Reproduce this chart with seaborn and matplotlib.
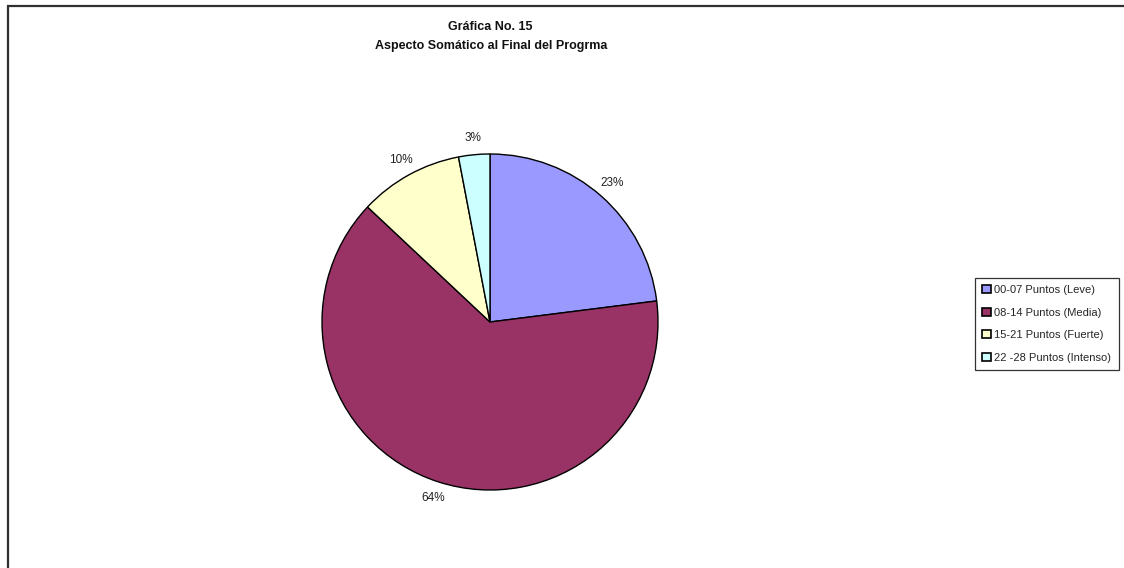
import matplotlib
matplotlib.use("Agg")
import matplotlib.pyplot as plt
from matplotlib.patches import Rectangle, Patch
import seaborn as sns

sns.set_theme(style="white")
plt.rcParams["font.family"] = ["Liberation Sans", "DejaVu Sans"]

# Data
categories = ["00-07 Puntos (Leve)", "08-14 Puntos (Media)",
              "15-21 Puntos (Fuerte)", "22 -28 Puntos (Intenso)"]
percentages = [23, 64, 10, 3]
colors = ["#9999FF", "#993366", "#FFFFCC", "#CCFFFF"]
title_lines = ["Gráfica No. 15", "Aspecto Somático al Final del Progrma"]

W, H = 1124, 568
fig = plt.figure(figsize=(W / 100, H / 100), dpi=100)
fig.patch.set_facecolor("white")

# Chart area frame (open to the right and bottom)
fig.patches.append(Rectangle((7.5 / W, -0.1), 1.2, 1.1 - 6.5 / H,
                             transform=fig.transFigure, fill=False,
                             edgecolor="#303030", linewidth=1.6))

# Pie axes, centred on the plot area
cx, cy, half = 490, 322, 200
ax = fig.add_axes([(cx - half) / W, (H - cy - half) / H, 2 * half / W, 2 * half / H])
r_px = 168
lim = half / r_px

wedges, _, autotexts = ax.pie(
    percentages, colors=colors, startangle=90, counterclock=False,
    autopct=lambda p: f"{p:.0f}%", pctdistance=1.1,
    wedgeprops=dict(edgecolor="black", linewidth=1.0),
    textprops=dict(fontsize=8.5, color="#222222"),
)
ax.set_xlim(-lim, lim)
ax.set_ylim(-lim, lim)
ax.set_aspect("equal")
ax.axis("off")

# Title
fig.text(490 / W, 1 - 27 / H, title_lines[0], ha="center", va="center",
         fontsize=9, fontweight="bold", color="#111111")
fig.text(491 / W, 1 - 46 / H, title_lines[1], ha="center", va="center",
         fontsize=9, fontweight="bold", color="#111111")

# Legend
handles = [Patch(facecolor=c, edgecolor="black", linewidth=1.2) for c in colors]
leg = fig.legend(handles, categories, loc="upper left",
                 bbox_to_anchor=(975 / W, 1 - 278 / H),
                 fontsize=8.0, frameon=True, fancybox=False,
                 handlelength=0.75, handleheight=0.75, handletextpad=0.35,
                 labelspacing=1.12, borderpad=0.65, borderaxespad=0)
leg.get_frame().set_edgecolor("black")
leg.get_frame().set_linewidth(0.9)

fig.savefig("out.png", dpi=100, facecolor="white")
